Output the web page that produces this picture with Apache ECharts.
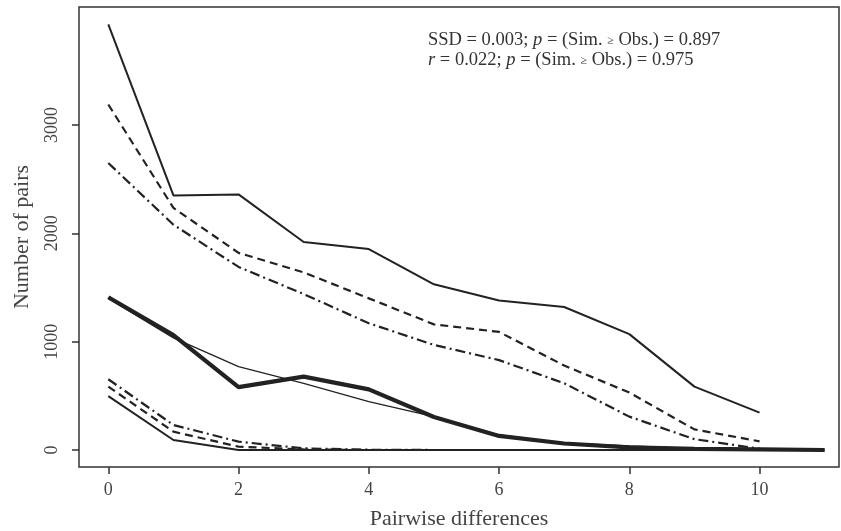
<!DOCTYPE html>
<html>
<head>
<meta charset="utf-8">
<script src="https://cdn.jsdelivr.net/npm/echarts@6/dist/echarts.min.js"></script>
<style>
  html, body { margin: 0; padding: 0; background: #fff; }
  #main { width: 841px; height: 531px; }
</style>
</head>
<body>
<div id="main"></div>
<script>
// pairwise differences 0..11
var diffs = [0, 1, 2, 3, 4, 5, 6, 7, 8, 9, 10, 11];
var xTicks = [0, 2, 4, 6, 8, 10];
var yTicks = [0, 1000, 2000, 3000];

// simulated envelopes (upper group)
var upperSolid   = [3930, 2350, 2360, 1920, 1855, 1530, 1380, 1320, 1070, 585, 345];
var upperDashed  = [3190, 2235, 1820, 1640, 1400, 1160, 1090, 780, 530, 190, 80];
var upperDashDot = [2650, 2080, 1690, 1440, 1170, 970, 830, 616, 308, 100, 12];
// lower group
var lowerDashDot = [653, 231, 77, 15, 2, 0, 0, 0, 0, 0, 0];
var lowerDashed  = [585, 169, 31, 5, 0, 0, 0, 0, 0, 0, 0];
var lowerSolid   = [498, 92, 0, 0, 0, 0, 0, 0, 0, 0, 0];
// observed (thick) and expected (thin)
var observed = [1410, 1060, 580, 677, 560, 305, 130, 60, 25, 10, 5, 0];
var expected = [1400, 1035, 770, 615, 446, 308, 140, 65, 37, 15, 6, 2];

var ink = '#222';
var serif = '"Liberation Serif", "DejaVu Serif", serif';

function pts(vals) {
  return vals.map(function (v, i) { return [diffs[i], v]; });
}

function line(vals, width, type) {
  return {
    type: 'line',
    data: pts(vals),
    symbol: 'none',
    silent: true,
    animation: false,
    lineStyle: { color: ink, width: width, type: type || 'solid', cap: 'butt' }
  };
}

var dash = [8, 5];
var dashDot = [10, 4, 2, 4];

var chart = echarts.init(document.getElementById('main'));

chart.setOption({
  backgroundColor: '#fff',
  animation: false,
  grid: {
    left: 79, right: 2, top: 7, bottom: 64,
    outerBoundsMode: 'none',
    containLabel: false,
    show: true,
    borderColor: '#333',
    borderWidth: 1.5,
    backgroundColor: 'transparent'
  },
  xAxis: {
    type: 'value',
    min: -0.45,
    max: 11.22,
    name: 'Pairwise differences',
    nameLocation: 'middle',
    nameGap: 41,
    nameTextStyle: { fontFamily: serif, fontSize: 22, color: '#444' },
    axisLine: { show: false, onZero: false },
    splitLine: { show: false },
    axisTick: { show: true, customValues: xTicks, length: 7, lineStyle: { color: '#333', width: 1.5 } },
    axisLabel: {
      customValues: xTicks, fontFamily: serif, fontSize: 18, color: '#444', margin: 14,
      formatter: function (v) { return String(v); }
    }
  },
  yAxis: {
    type: 'value',
    min: -157,
    max: 4090,
    name: 'Number of pairs',
    nameLocation: 'middle',
    nameGap: 46,
    nameTextStyle: { fontFamily: serif, fontSize: 22, color: '#444' },
    axisLine: { show: false, onZero: false },
    splitLine: { show: false },
    axisTick: { show: true, customValues: yTicks, length: 7, lineStyle: { color: '#333', width: 1.5 } },
    axisLabel: {
      customValues: yTicks, rotate: 90, fontFamily: serif, fontSize: 18, color: '#444', margin: 18,
      formatter: function (v) { return String(v); }
    }
  },
  graphic: [{
    type: 'text',
    left: 428,
    top: 31,
    style: {
      text: '{n|SSD = 0.003; }{i|p}{n| = (Sim. }{s|≥}{n| Obs.) = 0.897}\n{i|r}{n| = 0.022; }{i|p}{n| = (Sim. }{s|≥}{n| Obs.) = 0.975}',
      fill: '#333',
      rich: {
        n: { fontFamily: serif, fontSize: 18.5, fill: '#333', lineHeight: 20 },
        i: { fontFamily: serif, fontSize: 18.5, fontStyle: 'italic', fill: '#333', lineHeight: 20 },
        s: { fontFamily: serif, fontSize: 12, fill: '#333', lineHeight: 20 }
      }
    }
  }],
  series: [
    line(upperSolid, 2),
    line(upperDashed, 2.2, dash),
    line(upperDashDot, 2.2, dashDot),
    line(lowerSolid, 2),
    line(lowerDashed, 2.2, dash),
    line(lowerDashDot, 2.2, dashDot),
    line(expected, 1.3),
    line(observed, 4.2)
  ]
});
</script>
</body>
</html>
